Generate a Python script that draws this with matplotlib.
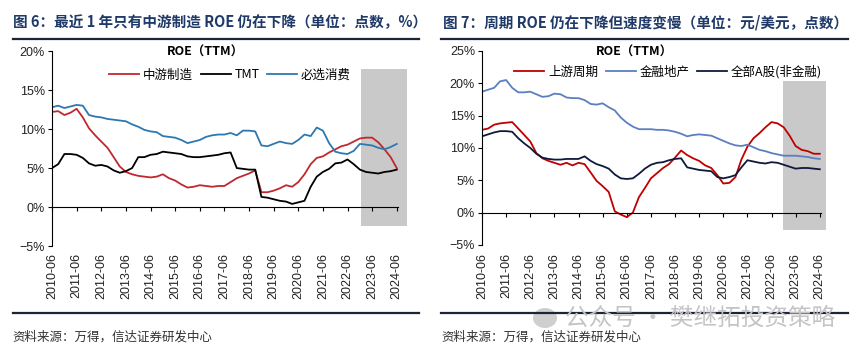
import matplotlib.pyplot as plt
import matplotlib.dates as mdates
from matplotlib.lines import Line2D
from matplotlib.patches import Rectangle, Ellipse
import pandas as pd

plt.rcParams['font.family'] = ['Noto Sans CJK SC', 'DejaVu Sans']

# quarterly data, 2010-06 .. 2024-06
dates = pd.date_range('2010-06-30', '2024-06-30', freq='QE')

# left chart: ROE (TTM), %
mid_manuf = [12.2, 12.3, 11.8, 12.1, 12.6, 11.5, 10.1, 9.2, 8.4, 7.6, 6.4, 5.2,
             4.5, 4.2, 4.0, 3.9, 3.8, 3.9, 4.2, 3.7, 3.4, 2.9, 2.5, 2.6,
             2.8, 2.7, 2.6, 2.7, 2.7, 3.2, 3.7, 4.0, 4.3, 4.7, 1.9, 1.9,
             2.1, 2.4, 2.8, 2.6, 3.2, 4.2, 5.5, 6.3, 6.5, 7.0, 7.4, 7.8,
             8.0, 8.4, 8.8, 8.9, 8.9, 8.3, 7.4, 6.4, 5.0]
tmt = [5.0, 5.5, 6.8, 6.8, 6.7, 6.3, 5.6, 5.3, 5.4, 5.2, 4.7, 4.4,
       4.6, 5.0, 6.4, 6.4, 6.7, 6.8, 7.1, 7.0, 6.9, 6.8, 6.5, 6.4,
       6.4, 6.5, 6.6, 6.7, 6.9, 7.0, 5.0, 4.9, 4.8, 4.8, 1.3, 1.2,
       1.0, 0.8, 0.7, 0.4, 0.6, 0.8, 2.6, 3.9, 4.5, 4.9, 5.6, 5.7,
       6.1, 5.5, 4.8, 4.5, 4.4, 4.3, 4.5, 4.6, 4.8]
staples = [12.8, 13.0, 12.7, 12.9, 13.1, 13.0, 11.8, 11.6, 11.5, 11.3, 11.2, 11.1,
           11.0, 10.6, 10.3, 9.9, 9.7, 9.6, 9.1, 9.0, 8.9, 8.6, 8.2, 8.4,
           8.6, 9.0, 9.2, 9.3, 9.3, 9.5, 9.2, 9.8, 9.8, 9.7, 7.9, 7.8,
           8.1, 8.4, 8.2, 8.1, 8.6, 9.3, 9.1, 10.2, 9.8, 8.2, 7.1, 6.9,
           6.8, 7.2, 8.1, 8.0, 7.9, 7.6, 7.4, 7.7, 8.1]

# right chart: ROE (TTM), %
upstream = [12.8, 13.0, 13.6, 13.8, 13.9, 14.0, 13.0, 12.0, 11.0, 9.2, 8.4, 8.0,
            7.7, 7.4, 7.7, 7.3, 7.7, 7.5, 6.2, 4.9, 4.1, 3.2, 0.2, -0.3,
            -0.7, 0.0, 2.4, 3.8, 5.3, 6.1, 6.9, 7.5, 8.5, 9.6, 8.9, 8.4,
            8.0, 7.3, 6.9, 5.8, 4.5, 4.6, 5.5, 8.2, 10.2, 11.5, 12.3, 13.2,
            14.0, 13.8, 13.2, 11.9, 10.3, 9.7, 9.5, 9.1, 9.1]
fin_re = [18.7, 19.0, 19.3, 20.3, 20.5, 19.3, 18.6, 18.6, 18.7, 18.3, 17.9, 18.0,
          18.4, 18.3, 17.8, 17.7, 17.7, 17.4, 16.8, 16.7, 16.9, 16.3, 15.8, 14.7,
          13.9, 13.3, 12.9, 12.9, 12.9, 12.8, 12.8, 12.7, 12.5, 12.2, 11.8, 12.0,
          12.1, 12.0, 11.9, 11.5, 11.1, 10.7, 10.4, 10.3, 10.5, 10.1, 9.7, 9.5,
          9.2, 9.0, 8.8, 8.8, 8.8, 8.7, 8.6, 8.4, 8.3]
all_a = [11.8, 12.1, 12.4, 12.6, 12.6, 12.5, 11.5, 10.7, 10.0, 9.1, 8.5, 8.3,
         8.2, 8.2, 8.3, 8.3, 8.3, 8.7, 8.0, 7.5, 7.2, 6.8, 5.9, 5.3,
         5.2, 5.3, 6.0, 6.8, 7.4, 7.7, 7.8, 8.1, 8.3, 8.4, 7.0, 6.8,
         6.6, 6.5, 6.4, 5.5, 5.3, 5.5, 5.8, 7.0, 8.1, 7.9, 7.7, 7.6,
         7.8, 7.7, 7.4, 7.1, 6.8, 6.9, 6.9, 6.8, 6.7]

left_yticks = [-5, 0, 5, 10, 15, 20]
right_yticks = [-5, 0, 5, 10, 15, 20, 25]

navy = '#1f3a68'
fig = plt.figure(figsize=(8.66, 3.55), dpi=100)


def style_axis(ax, yticks, pad):
    ax.spines['top'].set_visible(False)
    ax.spines['right'].set_visible(False)
    ax.spines['bottom'].set_position(('data', 0))  # resets ticks, so do it first
    ax.set_ylim(yticks[0], yticks[-1])
    ax.set_yticks(yticks)
    ax.set_yticklabels([f'{v}%'.replace('-', '\u2212') for v in yticks],
                       family='Liberation Sans', fontsize=9, color='#222222')
    ax.set_xlim(mdates.date2num(dates[0]), mdates.date2num(dates[-1]) + 18)
    ax.set_xticks(dates[::4])
    ax.set_xticklabels([d.strftime('%Y-%m') for d in dates[::4]], rotation=90,
                       family='Liberation Sans', fontsize=9, color='#222222')
    ax.tick_params(axis='x', length=3, pad=pad)
    ax.tick_params(axis='y', length=3, pad=2)
    ax.patch.set_alpha(0)


def shade(ax, start, end, y0, y1):
    x0 = mdates.date2num(pd.Timestamp(start))
    x1 = mdates.date2num(pd.Timestamp(end))
    ax.add_patch(Rectangle((x0, y0), x1 - x0, y1 - y0, facecolor='#c9c9c9',
                           edgecolor='none', zorder=0, clip_on=False))


# ---- left chart
ax1 = fig.add_axes([52 / 866, 0.307, 346 / 866, 0.549])
shade(ax1, '2023-01-15', '2024-11-25', -2.4, 17.7)
ax1.plot(dates, mid_manuf, color='#c0282d', lw=1.3, label='中游制造')
ax1.plot(dates, tmt, color='black', lw=1.3, label='TMT')
ax1.plot(dates, staples, color='#2e78b0', lw=1.3, label='必选消费')
style_axis(ax1, left_yticks, 30)
ax1.legend(loc='center', bbox_to_anchor=(230 / 866, 1 - 75 / 355),
           bbox_transform=fig.transFigure, ncol=3, frameon=False, fontsize=9,
           handlelength=2.4, columnspacing=0.6, handletextpad=0.3)
fig.text(205 / 866, 1 - 52 / 355, 'ROE（TTM）', ha='center', va='center',
         fontsize=9, fontweight='bold')

# ---- right chart
ax2 = fig.add_axes([482 / 866, 0.310, 339 / 866, 0.5465])
shade(ax2, '2022-12-15', '2024-09-25', -2.7, 20.3)
ax2.plot(dates, upstream, color='#c00000', lw=1.3, label='上游周期')
ax2.plot(dates, fin_re, color='#5b7fc0', lw=1.3, label='金融地产')
ax2.plot(dates, all_a, color='#0e1a3c', lw=1.3, label='全部A股(非金融)')
style_axis(ax2, right_yticks, 26)
ax2.legend(loc='center', bbox_to_anchor=(668 / 866, 1 - 72 / 355),
           bbox_transform=fig.transFigure, ncol=3, frameon=False, fontsize=9,
           handlelength=2.4, columnspacing=0.6, handletextpad=0.3)
fig.text(634 / 866, 1 - 52 / 355, 'ROE（TTM）', ha='center', va='center',
         fontsize=9, fontweight='bold')

# ---- titles, rules, sources
fig.text(13 / 866, 1 - 22 / 355, '图 6：最近 1 年只有中游制造 ROE 仍在下降（单位：点数，%）',
         ha='left', va='center', fontsize=10.5, fontweight='bold', color=navy)
fig.text(443 / 866, 1 - 22 / 355, '图 7：周期 ROE 仍在下降但速度变慢（单位：元/美元，点数）',
         ha='left', va='center', fontsize=10.5, fontweight='bold', color=navy)

for x0, x1 in [(13, 419), (441, 848)]:
    for y in [39, 313]:
        fig.add_artist(Line2D([x0 / 866, x1 / 866], [1 - y / 355, 1 - y / 355],
                              color='#1c2438', lw=1.6))

fig.text(12 / 866, 1 - 337 / 355, '资料来源：万得，信达证券研发中心',
         ha='left', va='center', fontsize=9, color='#333333', style='italic')
fig.text(441 / 866, 1 - 337 / 355, '资料来源：万得，信达证券研发中心',
         ha='left', va='center', fontsize=9, color='#333333', style='italic')

# watermark
fig.add_artist(Ellipse((545 / 866, 1 - 318 / 355), 24 / 866, 20 / 355,
                       transform=fig.transFigure, facecolor='#cfcfcf', edgecolor='none'))
fig.text(565 / 866, 1 - 318 / 355, '公众号 · 樊继拓投资策略', ha='left', va='center',
         fontsize=17, color='#c4c4c4')

fig.savefig('out.png', dpi=100)
